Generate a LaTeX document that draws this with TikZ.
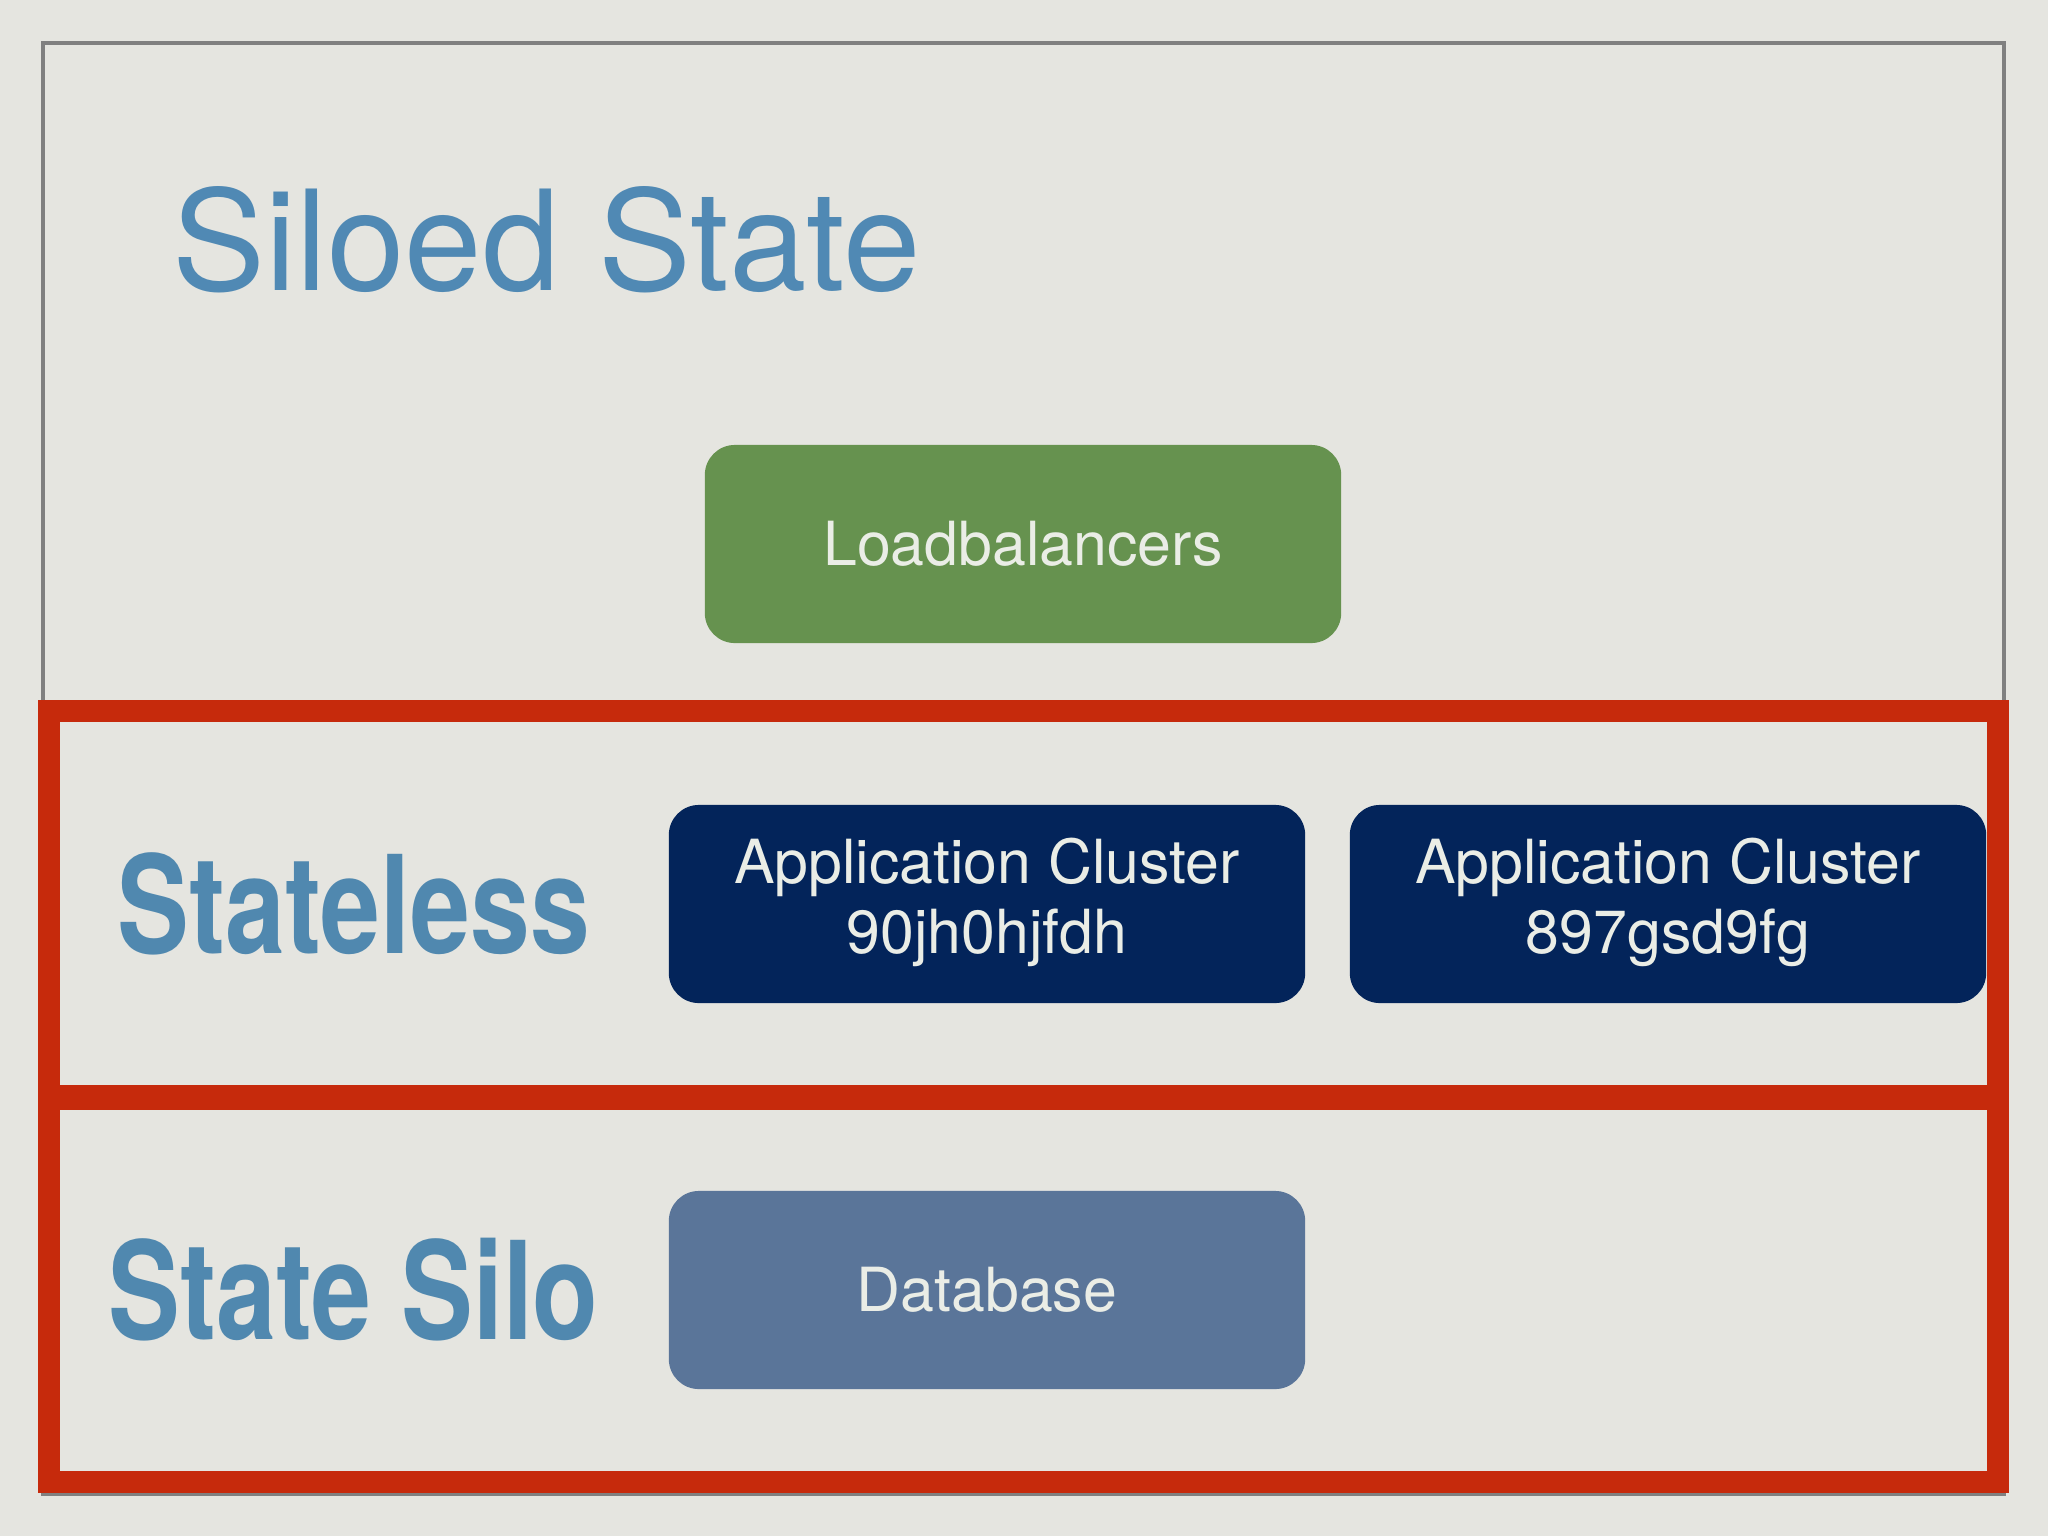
\documentclass[tikz,border=0pt]{standalone}
\usepackage{fontspec}
\usepackage{graphicx}
\setmainfont{TeX Gyre Heros}
\definecolor{bgc}{HTML}{E5E5E0}
\definecolor{titleblue}{HTML}{5089B4}
\definecolor{lblblue}{HTML}{5088AF}
\definecolor{silored}{HTML}{C62A0C}
\definecolor{lbgreen}{HTML}{66924F}
\definecolor{navyc}{HTML}{03245A}
\definecolor{dbblue}{HTML}{5A7599}
\definecolor{lighttext}{HTML}{EAEDE6}
\definecolor{framegray}{HTML}{808080}
\tikzset{
  boxnode/.style={rounded corners=0.3cm, minimum width=6.36cm, minimum height=1.98cm,
    inner sep=0pt, text=lighttext, align=center,
    font=\fontsize{17.3}{20}\selectfont},
  silobox/.style={draw=silored, line width=0.22cm},
  biglabel/.style={text=lblblue, inner sep=0pt, anchor=base west,
    font=\fontsize{38.7}{40}\selectfont\bfseries}
}
\begin{document}
\begin{tikzpicture}[x=0.01cm,y=-0.01cm]
\useasboundingbox (0,0) rectangle (2048,1536);
\fill[bgc] (0,0) rectangle (2048,1536);
% outer gray frame
\draw[framegray, line width=0.035cm] (43,43) rectangle (2004,1494);
% title
\node[text=titleblue, inner sep=0pt, anchor=base west,
  font=\fontsize{39.6}{44}\selectfont] (title) at (172,290) {Siloed State};
% red silo boxes
\draw[silobox] (49,711) rectangle (1998,1096);
\draw[silobox] (49,1099) rectangle (1998,1482);
% boxes
\node[boxnode, fill=lbgreen] (lb) at (1023,544) {Loadbalancers};
\node[boxnode, fill=navyc] (app1) at (987,904) {\raisebox{-0.08cm}{\begin{tabular}{@{}c@{}}Application Cluster\\[-0.1pt]90jh0hjfdh\end{tabular}}};
\node[boxnode, fill=navyc] (app2) at (1668,904) {\raisebox{-0.08cm}{\begin{tabular}{@{}c@{}}Application Cluster\\[-0.1pt]897gsd9fg\end{tabular}}};
\node[boxnode, fill=dbblue] (db) at (987,1290) {Database};
% labels
\node[biglabel] (stateless) at (117,953) {\scalebox{0.79}[1]{Stateless}};
\node[biglabel] (silo) at (108,1339) {\scalebox{0.79}[1]{State Silo}};
\end{tikzpicture}
\end{document}
